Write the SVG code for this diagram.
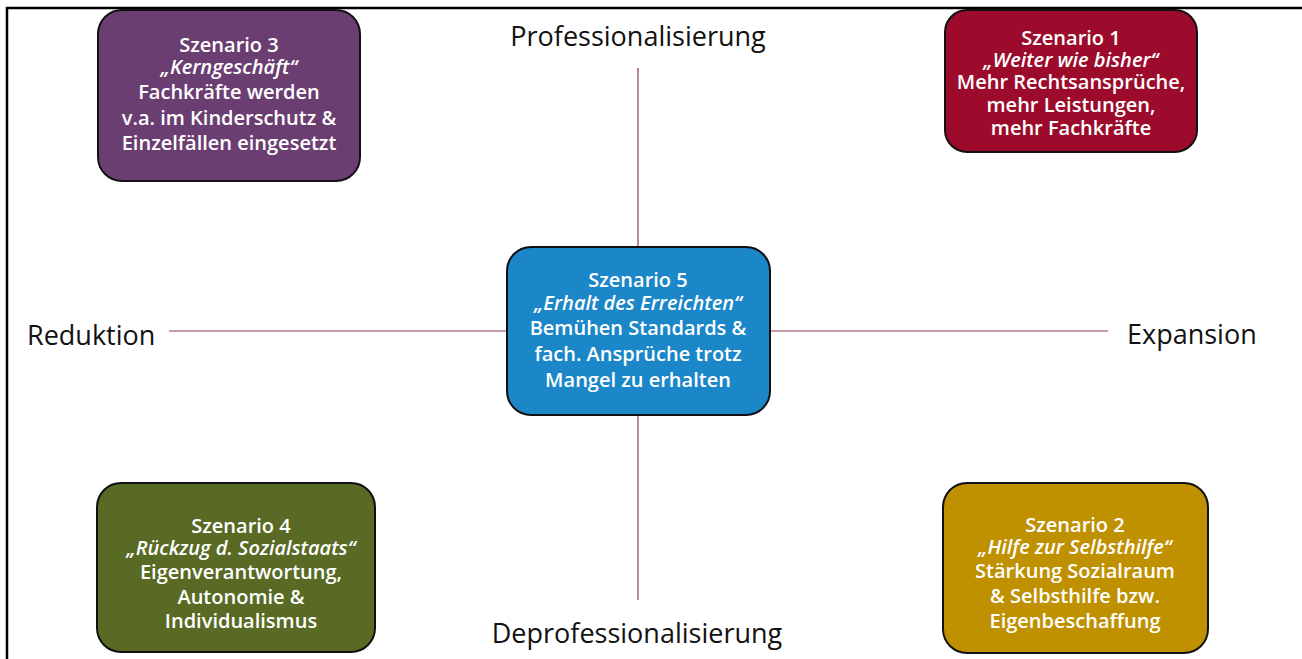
<svg xmlns="http://www.w3.org/2000/svg" width="1302" height="659" viewBox="0 0 1302 659">
<style>
.box{stroke:#111;stroke-width:2}
.t{font-family:"Open Sans","Noto Sans",sans-serif;fill:#fff;font-size:20px;font-weight:600;text-anchor:middle}
.i{font-style:italic}
.ax{font-family:"Open Sans","Noto Sans",sans-serif;fill:#111;font-size:27px}
.ln{stroke:#8b3a4a;stroke-width:1.2;fill:none}
</style>
<rect width="1302" height="659" fill="#fff"/>
<path d="M7 659V8H1302" fill="none" stroke="#000" stroke-width="2.5"/>
<g id="connectors">
<line class="ln" x1="638" y1="68" x2="638" y2="246"/>
<line class="ln" x1="638" y1="416" x2="638" y2="600"/>
<line class="ln" x1="169" y1="331" x2="506" y2="331"/>
<line class="ln" x1="770" y1="331" x2="1108" y2="331"/>
</g>
<g id="axis-labels">
<text class="ax" x="638" y="46" text-anchor="middle">Professionalisierung</text>
<text class="ax" x="637" y="643" text-anchor="middle">Deprofessionalisierung</text>
<text class="ax" x="27" y="345">Reduktion</text>
<text class="ax" x="1127" y="344">Expansion</text>
</g>
<g id="s3">
<rect class="box" x="98" y="10" width="262" height="171" rx="24" fill="#6b3e72"/>
<text class="t" x="229" y="52">Szenario 3</text>
<text class="t i" x="229" y="74">„Kerngeschäft“</text>
<text class="t" x="229" y="99">Fachkräfte werden</text>
<text class="t" x="229" y="125">v.a. im Kinderschutz &amp;</text>
<text class="t" x="229" y="150">Einzelfällen  eingesetzt</text>
</g>
<g id="s1">
<rect class="box" x="945" y="10" width="252" height="142" rx="22" fill="#9c0b2c"/>
<text class="t" x="1071" y="45">Szenario 1</text>
<text class="t i" x="1071" y="67">„Weiter wie bisher“</text>
<text class="t" x="1071" y="89">Mehr Rechtsansprüche,</text>
<text class="t" x="1071" y="112">mehr Leistungen,</text>
<text class="t" x="1071" y="135">mehr Fachkräfte</text>
</g>
<g id="s5">
<rect class="box" x="507" y="247" width="263" height="168" rx="24" fill="#1b86c8"/>
<text class="t" x="638" y="287">Szenario 5</text>
<text class="t i" x="638" y="310">„Erhalt des Erreichten“</text>
<text class="t" x="638" y="335">Bemühen Standards &amp;</text>
<text class="t" x="638" y="361">fach. Ansprüche trotz</text>
<text class="t" x="638" y="387">Mangel zu erhalten</text>
</g>
<g id="s4">
<rect class="box" x="97" y="483" width="278" height="169" rx="24" fill="#586a24"/>
<text class="t" x="241" y="533">Szenario 4</text>
<text class="t i" x="241" y="555">„Rückzug  d. Sozialstaats“</text>
<text class="t" x="241" y="579">Eigenverantwortung,</text>
<text class="t" x="241" y="604">Autonomie &amp;</text>
<text class="t" x="241" y="628">Individualismus</text>
</g>
<g id="s2">
<rect class="box" x="943" y="483" width="265" height="170" rx="24" fill="#bf9000"/>
<text class="t" x="1075" y="532">Szenario 2</text>
<text class="t i" x="1075" y="554">„Hilfe zur Selbsthilfe“</text>
<text class="t" x="1075" y="578">Stärkung Sozialraum</text>
<text class="t" x="1075" y="603">&amp; Selbsthilfe  bzw.</text>
<text class="t" x="1075" y="628">Eigenbeschaffung</text>
</g>
</svg>
